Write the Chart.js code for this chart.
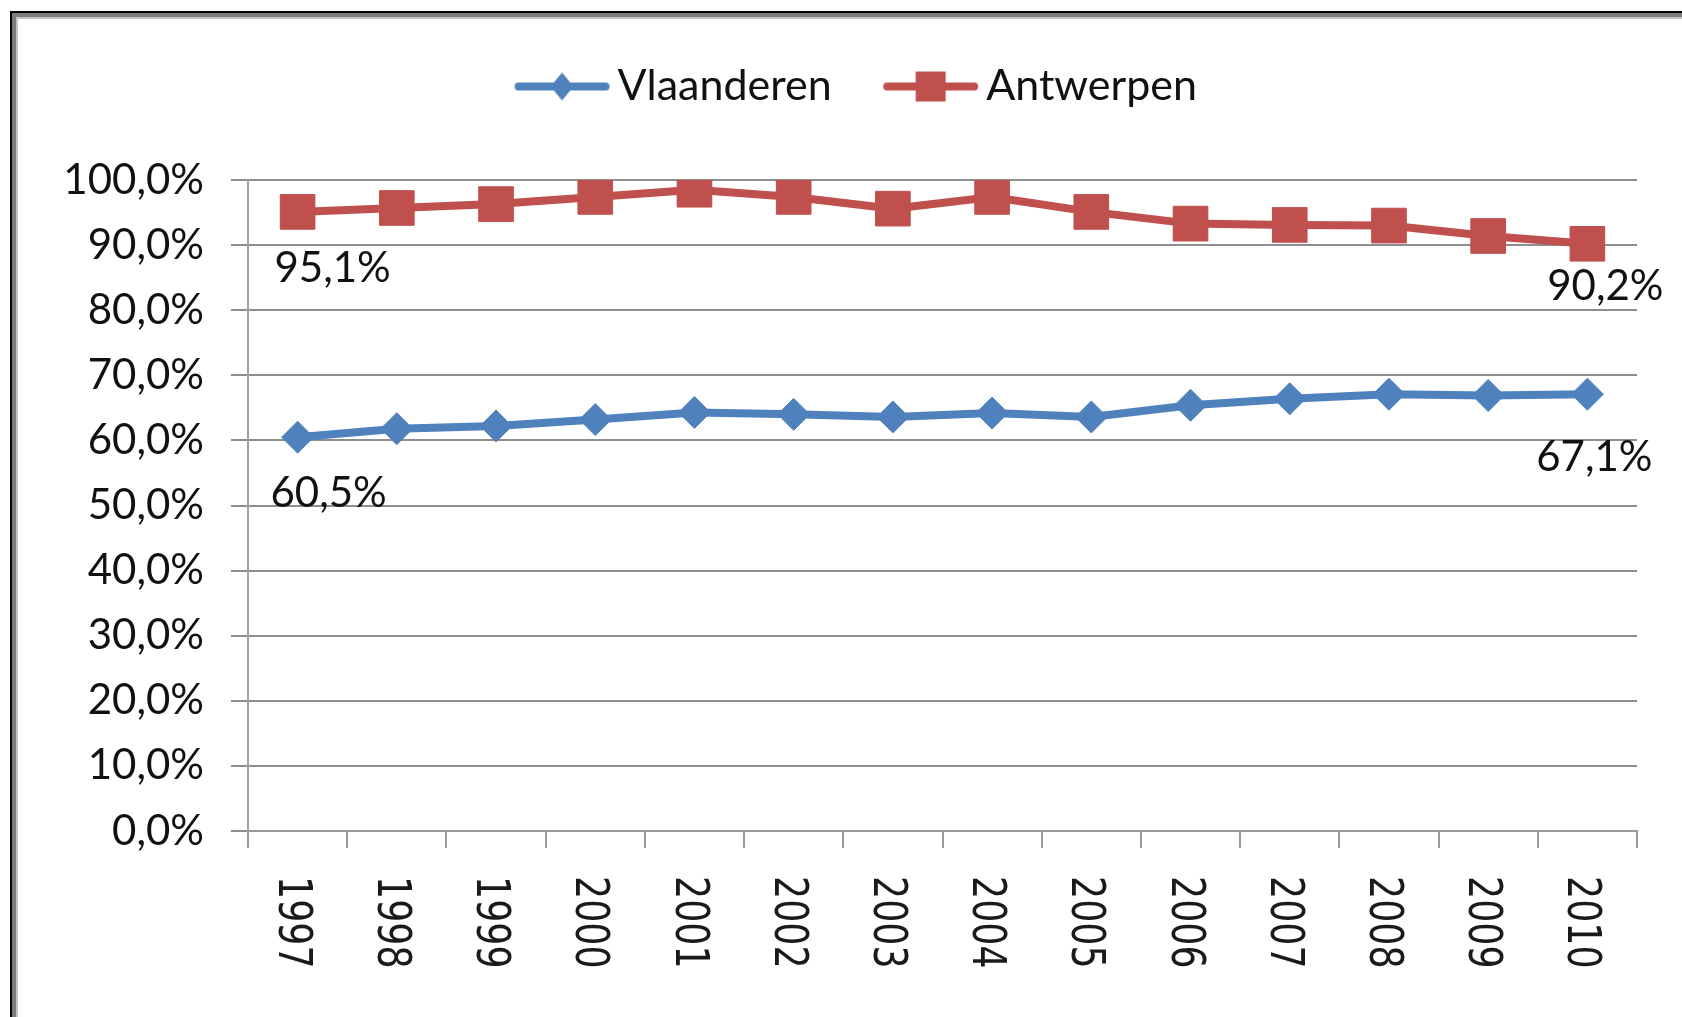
<!DOCTYPE html>
<html>
<head>
<meta charset="utf-8">
<script src="https://cdn.jsdelivr.net/npm/chart.js@4.4.0/dist/chart.umd.min.js"></script>
<style>
  html, body { margin: 0; padding: 0; background: #fff; overflow: hidden; }
  #wrap { position: relative; width: 1682px; height: 1017px; }
  #frame {
    position: absolute; left: 10px; top: 11px; width: 2000px; height: 2000px;
    border-left: 2px solid #000; border-top: 2px solid #000;
    box-shadow: inset 4px 4px 0 #7c7c7c, inset 6px 6px 0 #c4c4c4;
    pointer-events: none;
  }
</style>
</head>
<body>
<div id="wrap">
  <canvas id="mycanvas" width="1682" height="1017"></canvas>
  <div id="frame"></div>
</div>
<script>
var years = ['1997','1998','1999','2000','2001','2002','2003','2004','2005','2006','2007','2008','2009','2010'];
var vlaanderen = [60.5, 61.8, 62.2, 63.2, 64.3, 64.0, 63.6, 64.2, 63.6, 65.4, 66.4, 67.1, 66.9, 67.1];
var antwerpen = [95.1, 95.7, 96.3, 97.4, 98.5, 97.4, 95.6, 97.4, 95.1, 93.3, 93.1, 93.0, 91.4, 90.2];
var yTicks = [0, 10, 20, 30, 40, 50, 60, 70, 80, 90, 100];

var blue = '#4F81BD';
var red = '#C0504D';
var labelFont = '42px Lato';

function pct(v) {
  return v.toFixed(1).replace('.', ',') + '%';
}

// little line + marker pictures for the legend
function legendIcon(color, shape) {
  var c = document.createElement('canvas');
  c.width = 97; c.height = 34;
  var g = c.getContext('2d');
  g.strokeStyle = color;
  g.fillStyle = color;
  g.lineWidth = 8;
  g.lineCap = 'round';
  g.beginPath();
  g.moveTo(5, 17);
  g.lineTo(92, 17);
  g.stroke();
  g.beginPath();
  if (shape == 'diamond') {
    g.moveTo(48.5, 3);
    g.lineTo(60, 17);
    g.lineTo(48.5, 31);
    g.lineTo(37, 17);
  } else {
    g.rect(33.5, 2, 30, 30);
  }
  g.closePath();
  g.fill();
  return c;
}
var icons = [legendIcon(blue, 'diamond'), legendIcon(red, 'square')];

// value labels on first and last point: [dataset, index, dx, dy]
var valueLabels = [
  [1, 0, 35, 57],
  [1, 13, 18, 43],
  [0, 0, 31, 56],
  [0, 13, 7, 63]
];

var valueLabelPlugin = {
  id: 'valueLabels',
  afterDatasetsDraw: function(chart) {
    var ctx = chart.ctx;
    ctx.save();
    ctx.font = labelFont;
    ctx.fillStyle = '#111';
    ctx.textAlign = 'center';
    ctx.textBaseline = 'middle';
    valueLabels.forEach(function(l) {
      var pt = chart.getDatasetMeta(l[0]).data[l[1]];
      var v = chart.data.datasets[l[0]].data[l[1]];
      ctx.fillText(pct(v), pt.x + l[2], pt.y + l[3]);
    });
    ctx.restore();
  }
};

// year labels turned a quarter clockwise, read from top to bottom
var yearLabelPlugin = {
  id: 'yearLabels',
  afterDraw: function(chart) {
    var ctx = chart.ctx;
    var xs = chart.scales.x;
    ctx.save();
    ctx.font = '36px "DejaVu Sans"';
    ctx.fillStyle = '#1a1a1a';
    ctx.textAlign = 'left';
    ctx.textBaseline = 'alphabetic';
    years.forEach(function(yr, i) {
      var x = xs.getPixelForValue(i) - 2;
      ctx.save();
      ctx.translate(x, xs.top + 45);
      ctx.rotate(Math.PI / 2);
      ctx.scale(1.01, 1.3);
      ctx.fillText(yr, 0, 13);
      ctx.restore();
    });
    ctx.restore();
  }
};

// legend gets a fixed band above the plot and sits a bit right of centre
var legendSpace = {
  id: 'legendSpace',
  afterInit: function(chart) {
    var fit = chart.legend.fit;
    chart.legend.fit = function() {
      fit.call(this);
      this.height = 180;
    };
  },
  afterLayout: function(chart) {
    chart.legend.left += 34;
    chart.legend.right += 34;
  }
};

var chartdata = {
  labels: years,
  datasets: [
    {
      label: 'Vlaanderen',
      data: vlaanderen,
      borderColor: blue,
      backgroundColor: blue,
      borderWidth: 8,
      pointStyle: 'rectRot',
      pointRadius: 16,
      pointBorderWidth: 1,
      pointBackgroundColor: blue,
      pointBorderColor: blue
    },
    {
      label: 'Antwerpen',
      data: antwerpen,
      borderColor: red,
      backgroundColor: red,
      borderWidth: 8,
      pointStyle: 'rect',
      pointRadius: 24.5,
      pointBorderWidth: 1,
      pointBackgroundColor: red,
      pointBorderColor: red
    }
  ]
};

var ctx = document.getElementById('mycanvas');

var lineGraph = new Chart(ctx, {
  type: 'line',
  data: chartdata,
  plugins: [legendSpace, valueLabelPlugin, yearLabelPlugin],
  options: {
    responsive: false,
    animation: false,
    devicePixelRatio: 1,
    layout: { padding: { left: 20, right: 45, top: 0, bottom: 0 } },
    plugins: {
      tooltip: { enabled: false },
      legend: {
        position: 'top',
        labels: {
          usePointStyle: true,
          pointStyleWidth: 68,
          boxHeight: 43,
          padding: 65,
          color: '#111',
          font: { family: 'Lato', size: 43 },
          generateLabels: function(chart) {
            return chart.data.datasets.map(function(ds, i) {
              return {
                text: ds.label,
                pointStyle: icons[i],
                fillStyle: ds.borderColor,
                strokeStyle: ds.borderColor,
                lineWidth: 0,
                fontColor: '#111',
                hidden: false,
                datasetIndex: i
              };
            });
          }
        }
      }
    },
    scales: {
      x: {
        offset: true,
        afterFit: function(scale) { scale.height = 186; },
        grid: {
          offset: true,
          drawOnChartArea: false,
          drawTicks: true,
          tickLength: 17,
          color: '#9a9a9a',
          lineWidth: 2
        },
        border: { display: true, color: '#9a9a9a', width: 2 },
        ticks: { display: false }
      },
      y: {
        min: 0,
        max: 100,
        afterFit: function(scale) { scale.width = 228; },
        afterBuildTicks: function(scale) {
          scale.ticks = yTicks.map(function(v) { return { value: v }; });
        },
        grid: {
          color: '#8e8e8e',
          lineWidth: 2,
          drawTicks: true,
          tickLength: 17
        },
        border: { display: true, color: '#a0a0a0', width: 2 },
        ticks: {
          padding: 27,
          color: '#111',
          font: { family: 'Lato', size: 42 },
          callback: function(v) { return pct(v); }
        }
      }
    }
  }
});
</script>
</body>
</html>
